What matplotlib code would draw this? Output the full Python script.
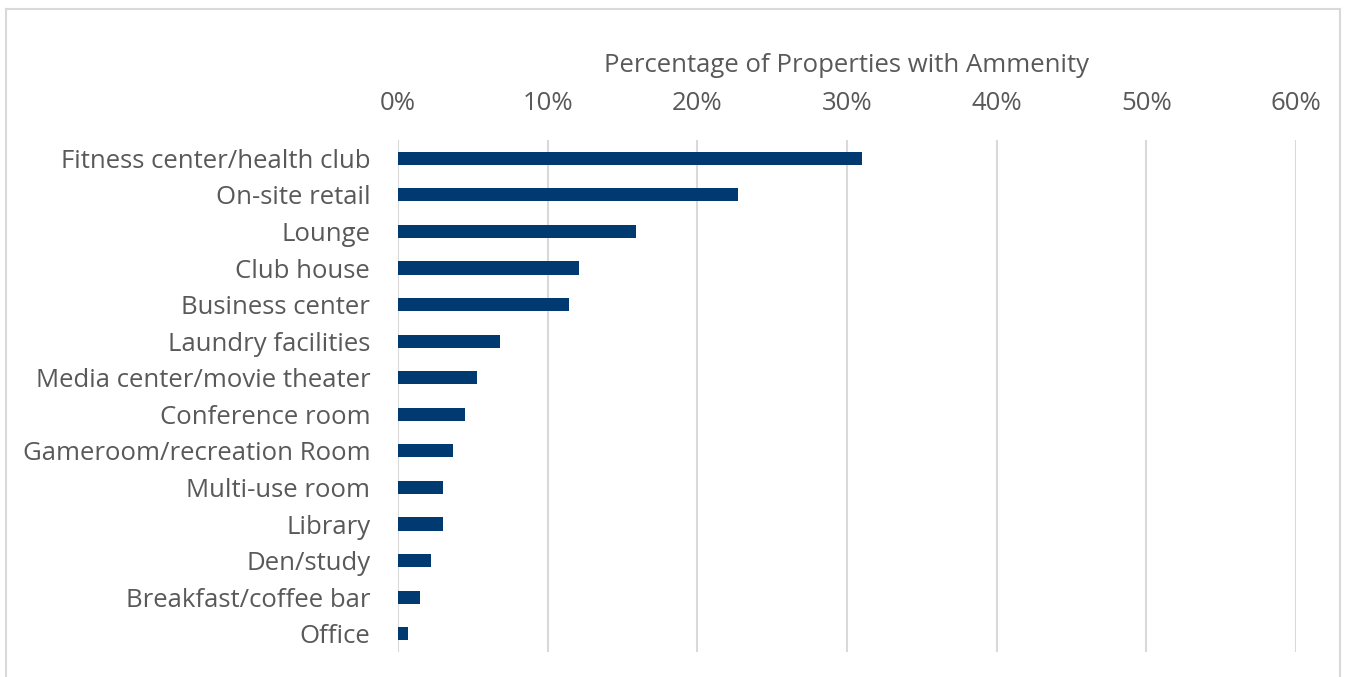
import matplotlib
matplotlib.use("Agg")
import matplotlib.pyplot as plt
from matplotlib.lines import Line2D
from matplotlib.ticker import FuncFormatter

categories = ["Fitness center/health club", "On-site retail", "Lounge", "Club house",
              "Business center", "Laundry facilities", "Media center/movie theater",
              "Conference room", "Gameroom/recreation Room", "Multi-use room", "Library",
              "Den/study", "Breakfast/coffee bar", "Office"]
values = [31.0, 22.7, 15.9, 12.1, 11.4, 6.8, 5.3, 4.5, 3.7, 3.0, 3.0, 2.2, 1.5, 0.7]
x_ticks = [0, 10, 20, 30, 40, 50, 60]
axis_title = "Percentage of Properties with Ammenity"

plt.rcParams['font.family'] = ['Open Sans', 'DejaVu Sans']
W, H = 1351, 677
fig = plt.figure(figsize=(W / 100, H / 100), dpi=100)
ax = fig.add_axes([398 / W, 1 - 652 / H, (1296 - 398) / W, (652 - 140) / H])

ypos = list(range(len(categories)))
ax.barh(ypos, values, height=0.36, color="#003a70", zorder=3)
ax.set_ylim(len(categories) - 0.5, -0.5)
ax.set_xlim(0, 60)
ax.set_xticks(x_ticks)
ax.xaxis.set_major_formatter(FuncFormatter(lambda v, p: f"{int(v)}%"))
ax.xaxis.tick_top()
ax.xaxis.set_label_position("top")
ax.set_xlabel(axis_title, fontsize=18.5, color="#595959", labelpad=14)
ax.set_yticks(ypos)
ax.set_yticklabels(categories)
ax.tick_params(axis="x", length=0, labelsize=18.5, labelcolor="#595959", pad=17)
ax.tick_params(axis="y", length=0, labelsize=18.5, labelcolor="#595959", pad=20)
ax.grid(axis="x", color="#d9d9d9", linewidth=1.5, zorder=0)
for s in ax.spines.values():
    s.set_visible(False)

# outer chart border
c = "#d9d9d9"
fig.add_artist(Line2D([6 / W, 1340 / W], [1 - 9 / H, 1 - 9 / H], color=c, lw=1.5, transform=fig.transFigure))
fig.add_artist(Line2D([6 / W, 6 / W], [1 - 9 / H, 0], color=c, lw=1.5, transform=fig.transFigure))
fig.add_artist(Line2D([1340 / W, 1340 / W], [1 - 9 / H, 0], color=c, lw=1.5, transform=fig.transFigure))

fig.savefig("out.png", dpi=100)
